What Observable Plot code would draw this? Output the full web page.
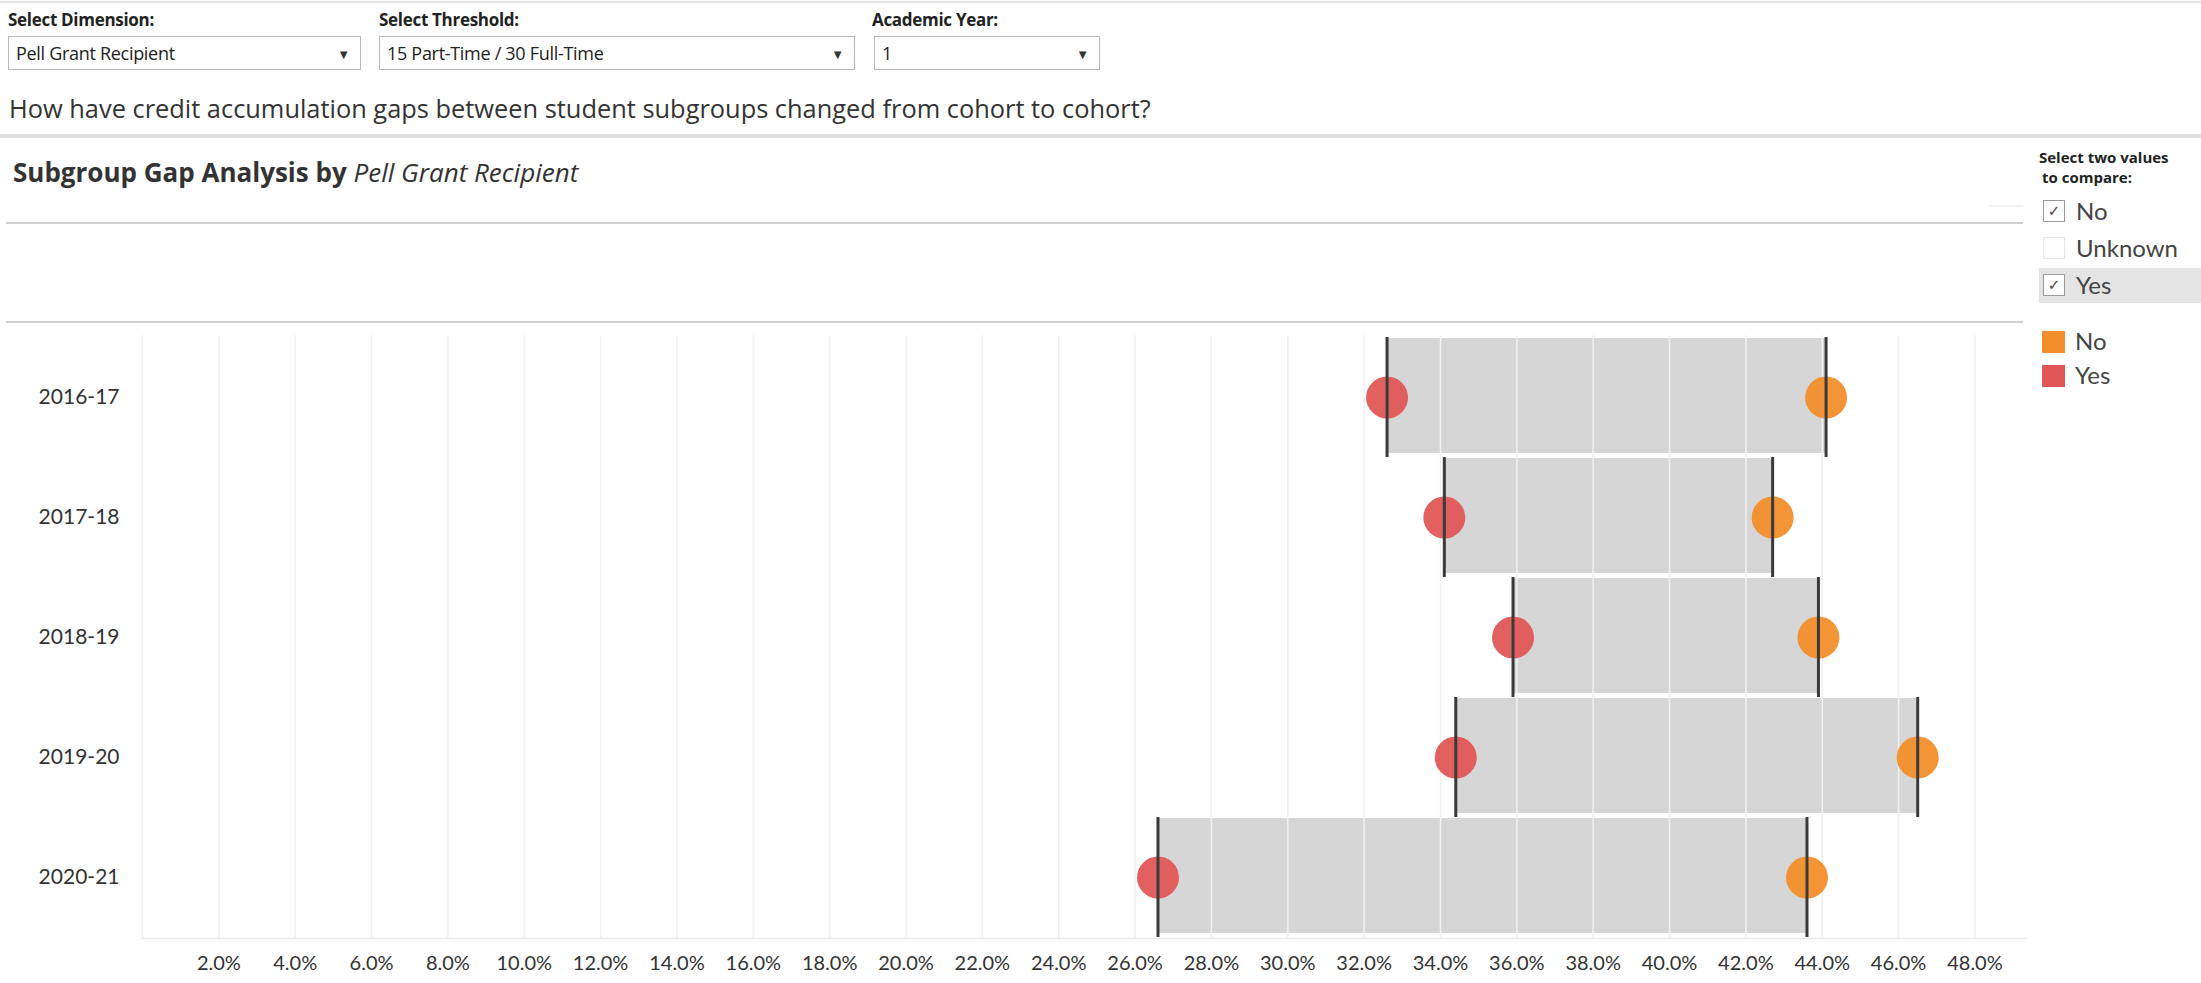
<!DOCTYPE html>
<html>
<head>
<meta charset="utf-8">
<script src="https://cdn.jsdelivr.net/npm/d3@7"></script>
<script src="https://cdn.jsdelivr.net/npm/@observablehq/plot@0.6"></script>
<style>
  html, body { margin: 0; padding: 0; background: #fff; }
  body { width: 2201px; height: 983px; position: relative; overflow: hidden; font-family: Lato, "Open Sans", sans-serif; color: #333; }
  .abs { position: absolute; white-space: nowrap; }
  .lbl { font-family: "Open Sans"; font-weight: 700; font-size: 17px; color: #222; letter-spacing: -0.3px; }
  .dd { border: 1px solid #b8b8b8; background: #fff; box-sizing: border-box; height: 34px; }
  .dd .t { position: absolute; left: 7px; top: 0; line-height: 33px; font-family: "Open Sans"; font-size: 18px; color: #222; letter-spacing: -0.3px; }
  .dd .a { position: absolute; right: 10px; top: 0; line-height: 34px; font-size: 13px; color: #333; }
  .cb { position: absolute; width: 22px; height: 22px; border: 1px solid #9a9a9a; box-sizing: border-box; background: #fff; font-family: "DejaVu Sans"; font-size: 15px; line-height: 20px; text-align: center; color: #444; }
  .cbt { font-size: 24px; color: #444; }
  #chart { position: absolute; left: 0; top: 322px; }
</style>
</head>
<body>
<div class="abs" style="left:0;top:1px;width:2201px;height:2px;background:#e4e4e4"></div>

<div class="abs lbl" style="left:8px;top:9px;line-height:22px">Select Dimension:</div>
<div class="abs lbl" style="left:379px;top:9px;line-height:22px">Select Threshold:</div>
<div class="abs lbl" style="left:872px;top:9px;line-height:22px">Academic Year:</div>

<div class="abs dd" style="left:8px;top:36px;width:353px"><span class="t">Pell Grant Recipient</span><span class="a">▼</span></div>
<div class="abs dd" style="left:379px;top:36px;width:476px"><span class="t">15 Part-Time / 30 Full-Time</span><span class="a">▼</span></div>
<div class="abs dd" style="left:874px;top:36px;width:226px"><span class="t">1</span><span class="a">▼</span></div>

<div class="abs" style="left:9px;top:92px;line-height:32px;font-family:'Open Sans';font-size:25.4px;color:#333">How have credit accumulation gaps between student subgroups changed from cohort to cohort?</div>

<div class="abs" style="left:0;top:134px;width:2201px;height:4px;background:#dedede"></div>

<div class="abs" style="left:13px;top:156px;line-height:32px;font-family:'Open Sans';font-size:26px;font-weight:700;color:#333">Subgroup Gap Analysis by <span style="font-style:italic;font-weight:400">Pell Grant Recipient</span></div>

<div class="abs" style="left:6px;top:222px;width:2017px;height:2px;background:#cfcfcf"></div>
<div class="abs" style="left:1990px;top:205px;width:33px;height:2px;background:#f0f0f0"></div>
<div class="abs" style="left:6px;top:321px;width:2017px;height:2px;background:#cfcfcf"></div>

<div class="abs" style="left:2039px;top:147px;line-height:20px;font-family:'Open Sans';font-size:15px;font-weight:700;color:#222">Select two values</div>
<div class="abs" style="left:2042px;top:167px;line-height:20px;font-family:'Open Sans';font-size:15px;font-weight:700;color:#222">to compare:</div>

<div class="abs" style="left:2039px;top:268px;width:162px;height:35px;background:#e4e4e4"></div>
<div id="checks"></div>
<div id="legend"></div>

<div id="chart"></div>

<script>
// ---- data ----
const years = ["2016-17", "2017-18", "2018-19", "2019-20", "2020-21"];
const pctYes = [32.6, 34.1, 35.9, 34.4, 26.6];
const pctNo  = [44.1, 42.7, 43.9, 46.5, 43.6];
const groups = ["No", "Yes"];
const groupColors = ["#f28e2b", "#e15759"];
const filterValues = ["No", "Unknown", "Yes"];
const filterChecked = [true, false, true];
const xTicks = [2, 4, 6, 8, 10, 12, 14, 16, 18, 20, 22, 24, 26, 28, 30, 32, 34, 36, 38, 40, 42, 44, 46, 48];
const xTickLabels = ["2.0%", "4.0%", "6.0%", "8.0%", "10.0%", "12.0%", "14.0%", "16.0%", "18.0%", "20.0%", "22.0%", "24.0%", "26.0%", "28.0%", "30.0%", "32.0%", "34.0%", "36.0%", "38.0%", "40.0%", "42.0%", "44.0%", "46.0%", "48.0%"];
const gridTicks = [0].concat(xTicks);

// ---- derived tables ----
const rows = years.map((y, i) => ({year: y, yes: pctYes[i], no: pctNo[i]}));
const points = [];
years.forEach((y, i) => {
  points.push({year: y, group: "No", value: pctNo[i]});
  points.push({year: y, group: "Yes", value: pctYes[i]});
});

// ---- right panel (filter + legend) ----
const checks = document.getElementById("checks");
const checkTops = [200, 237, 274];
filterValues.forEach((v, i) => {
  const b = document.createElement("div");
  b.className = "cb";
  b.style.left = "2043px";
  b.style.top = checkTops[i] + "px";
  b.textContent = filterChecked[i] ? "✓" : "";
  if (!filterChecked[i]) b.style.borderColor = "#e6e6e6";
  checks.appendChild(b);
  const t = document.createElement("div");
  t.className = "abs cbt";
  t.style.left = "2076px";
  t.style.top = (checkTops[i] - 5) + "px";
  t.style.lineHeight = "32px";
  t.textContent = v;
  checks.appendChild(t);
});
const legend = document.getElementById("legend");
const legTops = [331, 365];
groups.forEach((g, i) => {
  const s = document.createElement("div");
  s.className = "abs";
  s.style.cssText = `left:2042px;top:${legTops[i]}px;width:23px;height:22px;background:${groupColors[i]}`;
  legend.appendChild(s);
  const t = document.createElement("div");
  t.className = "abs cbt";
  t.style.left = "2075px";
  t.style.top = (legTops[i] - 6) + "px";
  t.style.lineHeight = "32px";
  t.textContent = g;
  legend.appendChild(t);
});

// ---- chart ----
const chart = Plot.plot({
  width: 2030,
  height: 661,
  marginLeft: 142,
  marginRight: 4,
  marginTop: 13,
  marginBottom: 45,
  style: {fontFamily: "Lato, sans-serif", fontSize: "20px", color: "#333", background: "transparent", overflow: "visible"},
  x: {domain: [0, 49.35], label: null},
  y: {domain: years, padding: 0, label: null},
  color: {domain: groups, range: groupColors},
  marks: [
    Plot.barX(rows, {x1: "yes", x2: "no", y: "year", fill: "#d6d6d6", insetTop: 1, insetBottom: 4}),
    Plot.gridX(gridTicks, {stroke: "#f1f1f1", strokeOpacity: 1, strokeWidth: 1.5}),
    Plot.frame({anchor: "bottom", stroke: "#ececec", strokeWidth: 1.5}),
    Plot.dot(points, {x: "value", y: "year", r: 21, fill: "group", fillOpacity: 0.95}),
    Plot.tickX(points, {x: "value", y: "year", stroke: "#3a3a3a", strokeWidth: 3}),
    Plot.axisX(xTicks, {tickSize: 0, tickPadding: 17, tickFormat: (d) => xTickLabels[xTicks.indexOf(d)], fill: "#333", fontSize: 20}),
    Plot.axisY({tickSize: 0, tickPadding: 23, fill: "#333", fontSize: 21})
  ]
});
document.getElementById("chart").appendChild(chart);
</script>
</body>
</html>
